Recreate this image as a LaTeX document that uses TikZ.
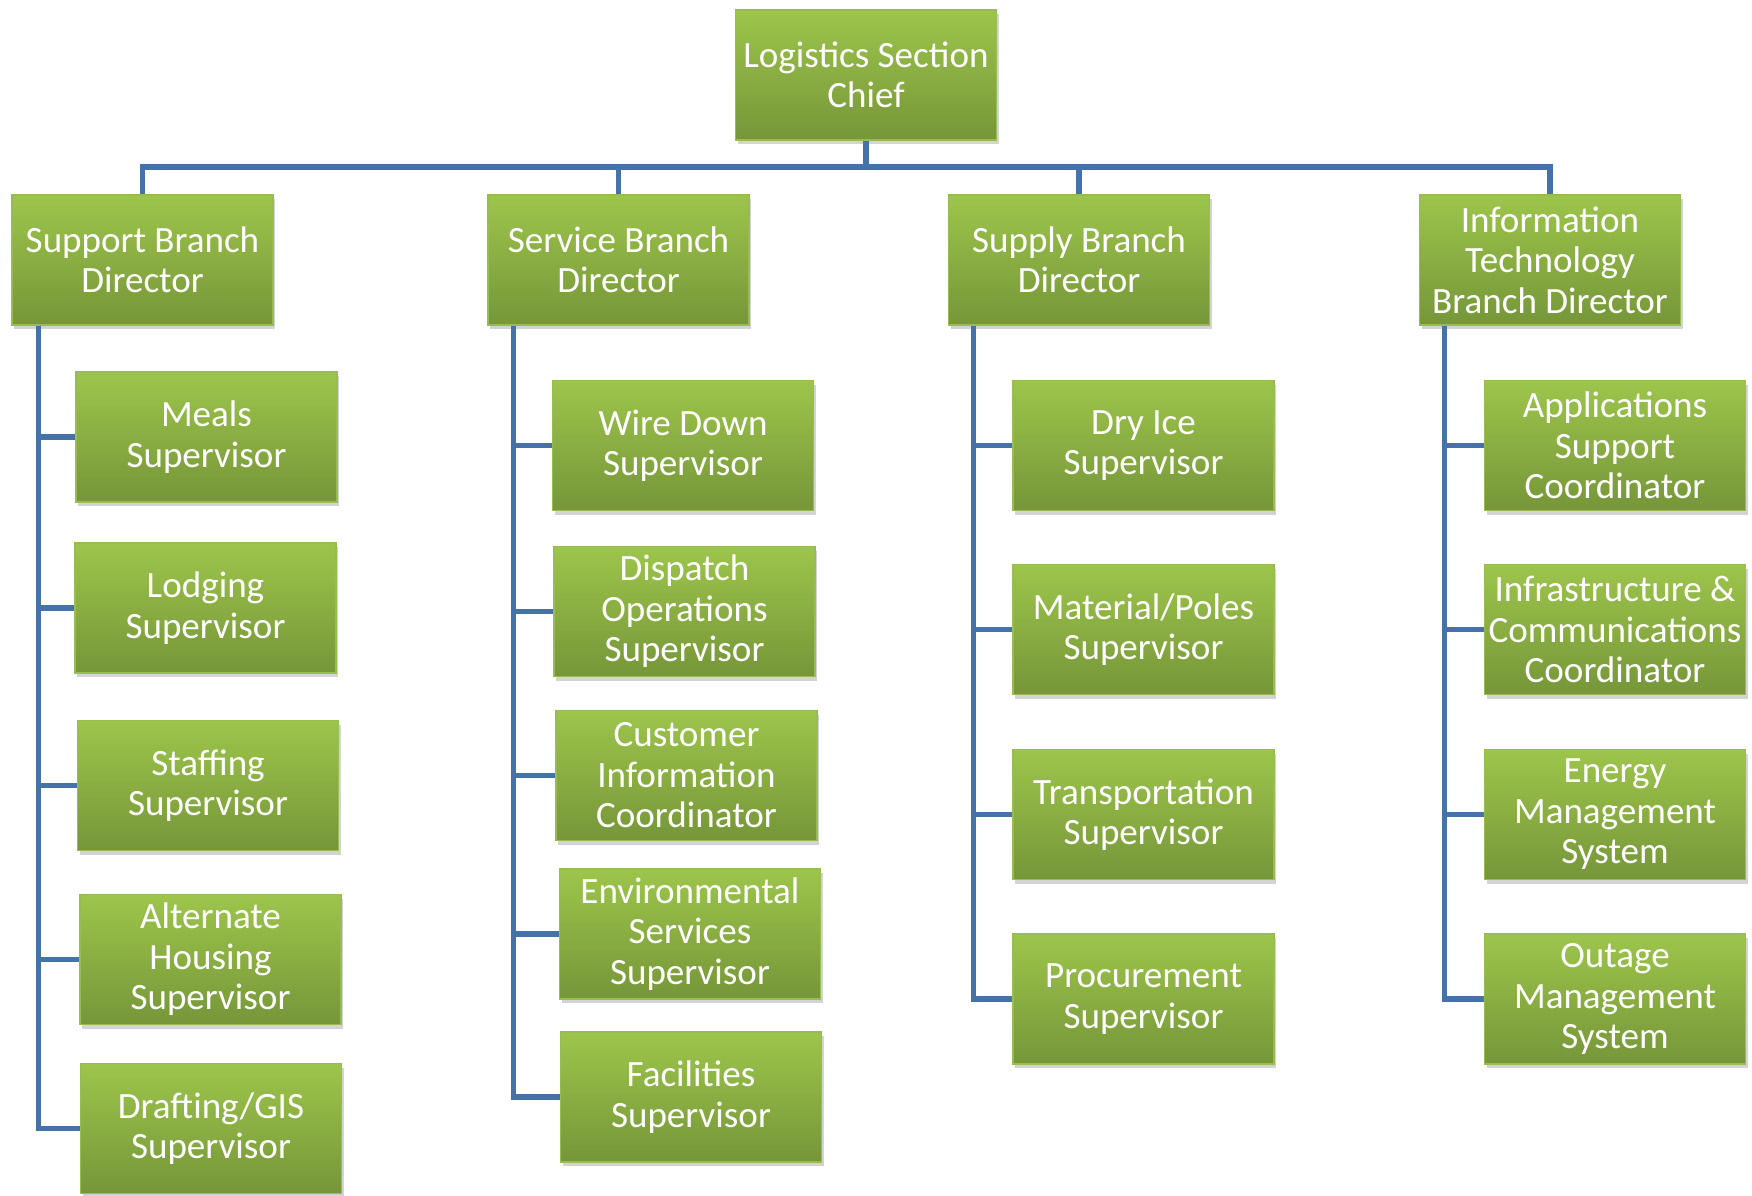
\documentclass[tikz,border=0pt]{standalone}
\usepackage{fontspec}
\setmainfont{Carlito}
\usetikzlibrary{shadows}

\definecolor{boxtop}{RGB}{157,197,75}
\definecolor{boxbot}{RGB}{118,150,57}
\definecolor{boxline}{RGB}{150,188,82}
\definecolor{linkblue}{RGB}{70,114,170}
\newcommand{\boxfont}{\fontsize{10.55pt}{11.5pt}\selectfont}

\begin{document}
\begin{tikzpicture}[
  unit/.style={draw=boxline, line width=0.5pt, top color=boxtop, bottom color=boxbot,
    minimum width=2.61cm, minimum height=1.30cm, inner sep=1pt, align=center,
    text=white, font=\boxfont,
    drop shadow={shadow xshift=0.6pt, shadow yshift=-1.2pt, opacity=0.35}},
  link/.style={draw=linkblue, line width=1.45pt}]

\useasboundingbox (0,0) rectangle (17.52,-11.96);

\node[unit] (chief) at (8.66,-0.75) {Logistics Section\\Chief};

\node[unit] (support) at (1.425,-2.60) {Support Branch\\Director};
\node[unit] (service) at (6.185,-2.60) {Service Branch\\Director};
\node[unit] (supply) at (10.79,-2.60) {Supply Branch\\Director};
\node[unit] (infotech) at (15.50,-2.60) {Information\\Technology\\Branch Director};

\node[unit] (meals) at (2.065,-4.37) {Meals\\Supervisor};
\node[unit] (lodging) at (2.055,-6.08) {Lodging\\Supervisor};
\node[unit] (staffing) at (2.08,-7.855) {Staffing\\Supervisor};
\node[unit] (housing) at (2.105,-9.595) {Alternate\\Housing\\Supervisor};
\node[unit] (drafting) at (2.11,-11.285) {Drafting/GIS\\Supervisor};

\node[unit] (wiredown) at (6.83,-4.455) {Wire Down\\Supervisor};
\node[unit] (dispatch) at (6.845,-6.115) {Dispatch\\Operations\\Supervisor};
\node[unit] (custinfo) at (6.865,-7.755) {Customer\\Information\\Coordinator};
\node[unit] (environ) at (6.90,-9.34) {Environmental\\Services\\Supervisor};
\node[unit] (facilities) at (6.91,-10.97) {Facilities\\Supervisor};

\node[unit] (dryice) at (11.435,-4.455) {Dry Ice\\Supervisor};
\node[unit] (material) at (11.435,-6.295) {Material/Poles\\Supervisor};
\node[unit] (transport) at (11.435,-8.145) {Transportation\\Supervisor};
\node[unit] (procure) at (11.435,-9.99) {Procurement\\Supervisor};

\node[unit] (apps) at (16.15,-4.455) {Applications\\Support\\Coordinator};
\node[unit] (infra) at (16.15,-6.295) {Infrastructure \&\\Communications\\Coordinator};
\node[unit] (energy) at (16.15,-8.145) {Energy\\Management\\System};
\node[unit] (outage) at (16.15,-9.99) {Outage\\Management\\System};

% top level
\coordinate (bus) at (8.66,-1.67);
\draw[link] (chief.south) -- (bus);
\draw[link] (support.north) |- (bus) -| (infotech.north);
\draw[link] (service.north) -- (service.north |- bus);
\draw[link] (supply.north) -- (supply.north |- bus);

% branch trunks
\coordinate (suptrunk) at ([xshift=0.27cm]support.south west);
\coordinate (sertrunk) at ([xshift=0.26cm]service.south west);
\coordinate (supltrunk) at ([xshift=0.26cm]supply.south west);
\coordinate (ittrunk) at ([xshift=0.26cm]infotech.south west);

\foreach \n in {meals,lodging,staffing,housing,drafting}
  \draw[link] (suptrunk) |- (\n.west);
\foreach \n in {wiredown,dispatch,custinfo,environ,facilities}
  \draw[link] (sertrunk) |- (\n.west);
\foreach \n in {dryice,material,transport,procure}
  \draw[link] (supltrunk) |- (\n.west);
\foreach \n in {apps,infra,energy,outage}
  \draw[link] (ittrunk) |- (\n.west);
\end{tikzpicture}
\end{document}
